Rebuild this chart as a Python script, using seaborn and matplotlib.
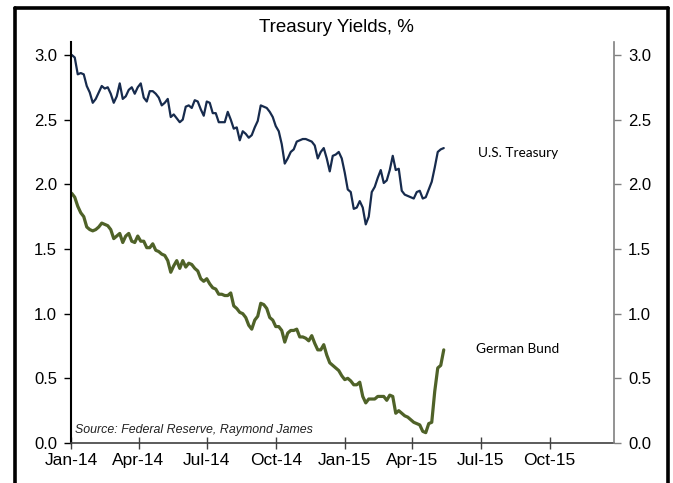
import matplotlib
matplotlib.use("Agg")
import matplotlib.pyplot as plt
import matplotlib.dates as mdates
from matplotlib.lines import Line2D
from matplotlib.transforms import blended_transform_factory
import matplotlib.ticker as mticker
import pandas as pd
import seaborn as sns

# ---- data (4-day sampling) ----
START_DATE = "2014-01-02"
us_treasury = [
    3.00, 2.98, 2.85, 2.86, 2.85, 2.76, 2.71, 2.63, 2.66, 2.71, 2.76, 2.74, 2.75, 2.70,
    2.63, 2.68, 2.78, 2.66, 2.68, 2.73, 2.75, 2.70, 2.75, 2.78, 2.67, 2.64, 2.72, 2.72,
    2.70, 2.67, 2.61, 2.63, 2.66, 2.52, 2.54, 2.51, 2.48, 2.50, 2.60, 2.61, 2.59, 2.65,
    2.64, 2.58, 2.53, 2.64, 2.63, 2.55, 2.55, 2.48, 2.48, 2.48, 2.56, 2.50, 2.43, 2.44,
    2.34, 2.41, 2.39, 2.36, 2.38, 2.44, 2.49, 2.61, 2.60, 2.59, 2.56, 2.52, 2.45, 2.41,
    2.31, 2.16, 2.20, 2.25, 2.27, 2.33, 2.34, 2.35, 2.35, 2.34, 2.33, 2.30, 2.20,
    2.25, 2.28, 2.20, 2.10, 2.22, 2.23, 2.25, 2.20, 2.09, 1.96, 1.94, 1.81, 1.82, 1.87,
    1.82, 1.69, 1.75, 1.94, 1.98, 2.05, 2.11, 2.01, 2.03, 2.11, 2.22, 2.11, 2.12, 1.95,
    1.92, 1.91, 1.90, 1.89, 1.94, 1.95, 1.89, 1.90, 1.96, 2.02, 2.13, 2.25, 2.27, 2.28,
]
german_bund = [
    1.93, 1.90, 1.83, 1.78, 1.75, 1.67, 1.65, 1.64, 1.65, 1.67, 1.70, 1.69, 1.68, 1.65,
    1.58, 1.60, 1.62, 1.55, 1.60, 1.62, 1.56, 1.55, 1.60, 1.56, 1.56, 1.51, 1.51, 1.54,
    1.49, 1.48, 1.46, 1.45, 1.41, 1.32, 1.37, 1.41, 1.35, 1.41, 1.36, 1.39, 1.38, 1.35,
    1.33, 1.27, 1.25, 1.27, 1.23, 1.20, 1.19, 1.15, 1.15, 1.14, 1.14, 1.16, 1.06, 1.04,
    1.01, 1.00, 0.97, 0.91, 0.88, 0.95, 0.98, 1.08, 1.07, 1.04, 0.97, 0.95, 0.90, 0.90,
    0.87, 0.78, 0.85, 0.87, 0.87, 0.88, 0.82, 0.82, 0.81, 0.79, 0.83, 0.77, 0.72,
    0.72, 0.76, 0.68, 0.62, 0.60, 0.58, 0.56, 0.52, 0.49, 0.50, 0.48, 0.45, 0.45, 0.47,
    0.36, 0.31, 0.34, 0.34, 0.34, 0.36, 0.36, 0.36, 0.33, 0.37, 0.36, 0.23, 0.25, 0.23,
    0.21, 0.20, 0.18, 0.16, 0.15, 0.14, 0.09, 0.08, 0.15, 0.16, 0.40, 0.58, 0.60, 0.72,
]
dates = pd.date_range(START_DATE, periods=len(us_treasury), freq="4D")
series_labels = ["U.S. Treasury", "German Bund"]
title_text = "Treasury Yields, %"
source_text = "Source: Federal Reserve, Raymond James"

df = pd.DataFrame({"date": dates, "us": us_treasury, "bund": german_bund})

# ---- style ----
sns.set_style("white")
plt.rcParams["font.family"] = ["Liberation Sans", "DejaVu Sans"]

fig = plt.figure(figsize=(6.73, 4.83), dpi=100)
ax = fig.add_axes([71 / 673, 1 - 443 / 483, (614 - 71) / 673, (443 - 42) / 483])

US_COLOR = "#172B4D"
BUND_COLOR = "#4F6228"

sns.lineplot(data=df, x="date", y="us", ax=ax, color=US_COLOR, linewidth=1.6)
sns.lineplot(data=df, x="date", y="bund", ax=ax, color=BUND_COLOR, linewidth=2.3)

ax.set_xlim(pd.Timestamp("2014-01-01"), pd.Timestamp("2015-12-26"))
ax.set_ylim(0, 3.1)
ax.set_xlabel("")
ax.set_ylabel("")
ax.yaxis.set_major_locator(mticker.MultipleLocator(0.5))
ax.yaxis.set_major_formatter(mticker.FormatStrFormatter("%.1f"))
ax.xaxis.set_major_locator(mdates.MonthLocator(bymonth=[1, 4, 7, 10]))
ax.xaxis.set_major_formatter(mdates.DateFormatter("%b-%y"))

ax2 = ax.twinx()
ax2.set_ylim(ax.get_ylim())
ax2.yaxis.set_major_locator(mticker.MultipleLocator(0.5))
ax2.yaxis.set_major_formatter(mticker.FormatStrFormatter("%.1f"))

for s in ["top", "right"]:
    ax.spines[s].set_visible(False)
for s in ["top", "left", "bottom"]:
    ax2.spines[s].set_visible(False)
ax.spines["left"].set_color("black")
ax.spines["left"].set_linewidth(1.5)
ax.spines["bottom"].set_color("#404040")
ax.spines["bottom"].set_linewidth(1.2)
ax2.spines["right"].set_visible(True)
ax2.spines["right"].set_color("#808080")
ax2.spines["right"].set_linewidth(1.2)

ax.tick_params(axis="y", which="major", direction="out", length=5, width=1.0,
               colors="black", labelsize=12, pad=5, left=True)
ax.tick_params(axis="x", which="major", direction="inout", length=8, width=1.0,
               color="#404040", labelcolor="black", labelsize=12.5, pad=3, bottom=True)
ax2.tick_params(axis="y", which="major", direction="out", length=5, width=1.0,
                color="#808080", labelcolor="black", labelsize=12, pad=5, right=True)

# series labels
bt = blended_transform_factory(ax.transAxes, ax.transData)
ax.text(0.7495, 2.24, series_labels[0], transform=bt, fontsize=9.8,
        family=["Lato", "DejaVu Sans"], va="center", ha="left", color="black")
ax.text(0.746, 0.73, series_labels[1], transform=bt, fontsize=9.8,
        family=["Lato", "DejaVu Sans"], va="center", ha="left", color="black")

# source note
ax.text(0.008, 0.10, source_text, transform=bt, fontsize=8.9, style="italic",
        va="center", ha="left", color="#222222")

# title
fig.text(336 / 673, 1 - 27 / 483, title_text, fontsize=13.5, ha="center", va="center",
         color="black")

# outer frame (left, top, right)
W, H = 673, 483
frame_kw = dict(color="black", linewidth=2.6, transform=fig.transFigure)
fig.add_artist(Line2D([15 / W, 15 / W], [0, 1 - 8 / H], **frame_kw))
fig.add_artist(Line2D([15 / W, 668 / W], [1 - 8 / H, 1 - 8 / H], **frame_kw))
fig.add_artist(Line2D([668 / W, 668 / W], [0, 1 - 8 / H], **frame_kw))

fig.savefig("out.png", dpi=100, facecolor="white")
